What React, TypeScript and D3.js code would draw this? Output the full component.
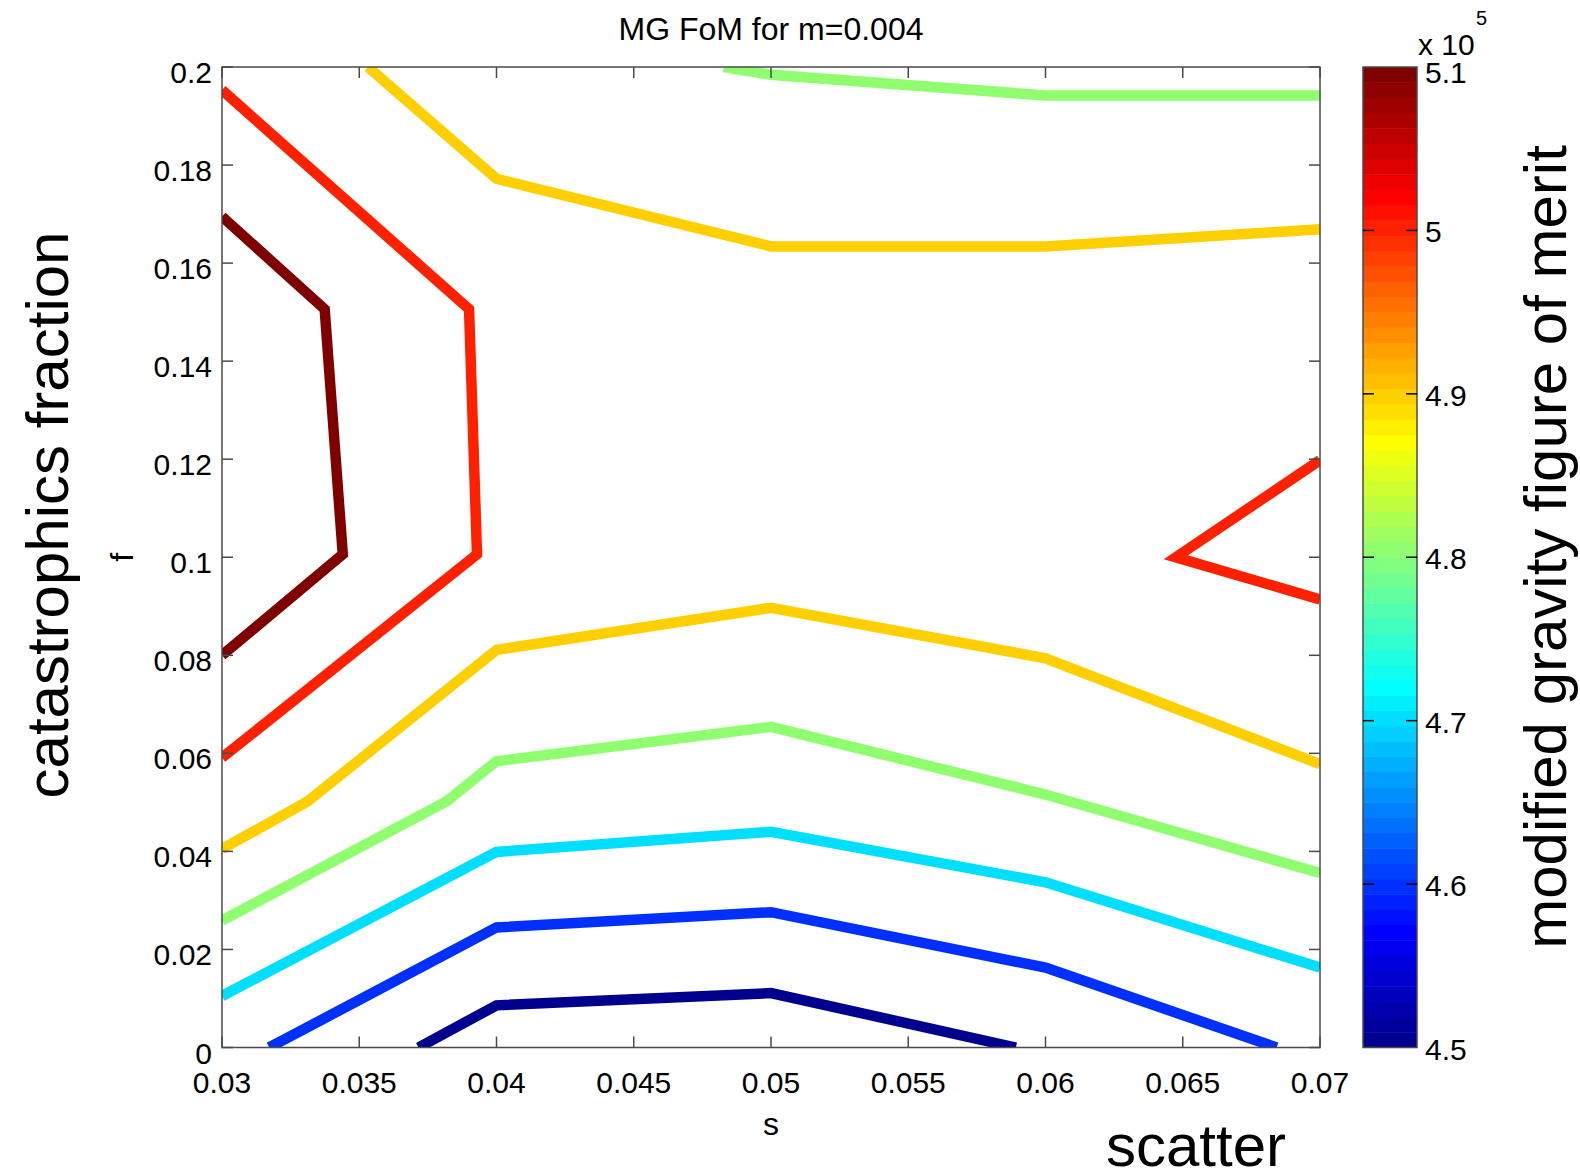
import React, { useMemo } from 'react';
import * as d3 from 'd3';

// contour levels (x 10^5) and the polylines, as [s, f]
const LEVELS = [4.5, 4.6, 4.7, 4.8, 4.9, 5.0, 5.1];

const LINE_45 = [[0.03716, 0], [0.04, 0.0086], [0.05, 0.0111], [0.05892, 0]];
const LINE_46 = [[0.03172, 0], [0.04, 0.0245], [0.05, 0.0276], [0.06, 0.0163], [0.06842, 0]];
const LINE_47 = [[0.03, 0.0105], [0.04, 0.0399], [0.05, 0.044], [0.06, 0.0337], [0.07, 0.0163]];
const LINE_48_LOW = [[0.03, 0.0259], [0.03818, 0.0502], [0.04, 0.0584], [0.05, 0.0654], [0.06, 0.0516], [0.07, 0.0356]];
const LINE_48_TOP = [[0.04828, 0.2], [0.05, 0.1984], [0.06, 0.1942], [0.07, 0.1942]];
const LINE_49_LOW = [[0.03, 0.0405], [0.03312, 0.0502], [0.04, 0.0811], [0.05, 0.0897], [0.06, 0.0794], [0.07, 0.0578]];
const LINE_49_TOP = [[0.03532, 0.2], [0.04, 0.1772], [0.05, 0.1634], [0.06, 0.1634], [0.07, 0.1669]];
const LINE_50_LEFT = [[0.03, 0.1953], [0.039, 0.1506], [0.03929, 0.1006], [0.03, 0.0591]];
const LINE_50_RIGHT = [[0.07, 0.1198], [0.06475, 0.1], [0.07, 0.0914]];
const LINE_51 = [[0.03, 0.1695], [0.03374, 0.1506], [0.0344, 0.1006], [0.03, 0.08]];

const CONTOURS = [
  { level: LEVELS[0], pts: LINE_45 },
  { level: LEVELS[1], pts: LINE_46 },
  { level: LEVELS[2], pts: LINE_47 },
  { level: LEVELS[3], pts: LINE_48_LOW },
  { level: LEVELS[3], pts: LINE_48_TOP },
  { level: LEVELS[4], pts: LINE_49_LOW },
  { level: LEVELS[4], pts: LINE_49_TOP },
  { level: LEVELS[5], pts: LINE_50_LEFT },
  { level: LEVELS[5], pts: LINE_50_RIGHT },
  { level: LEVELS[6], pts: LINE_51 },
];

const X_TICKS = [0.03, 0.035, 0.04, 0.045, 0.05, 0.055, 0.06, 0.065, 0.07];
const X_LABELS = ['0.03', '0.035', '0.04', '0.045', '0.05', '0.055', '0.06', '0.065', '0.07'];
const Y_TICKS = [0, 0.02, 0.04, 0.06, 0.08, 0.1, 0.12, 0.14, 0.16, 0.18, 0.2];
const Y_LABELS = ['0', '0.02', '0.04', '0.06', '0.08', '0.1', '0.12', '0.14', '0.16', '0.18', '0.2'];
const C_TICKS = [4.5, 4.6, 4.7, 4.8, 4.9, 5.0, 5.1];
const C_LABELS = ['4.5', '4.6', '4.7', '4.8', '4.9', '5', '5.1'];

const W = 1580;
const H = 1171;
const FONT = '"Liberation Sans", Arial, Helvetica, sans-serif';

// MATLAB jet(64)
const NCOL = 64;
function jetU(k: number) {
  if (k < 0 || k > 46) return 0;
  if (k < 16) return (k + 1) / 16;
  if (k < 31) return 1;
  return (47 - k) / 16;
}
function jet(i: number) {
  // i: 1..64
  const r = i >= 25 ? jetU(i - 25) : 0;
  const g = i >= 9 && i <= 55 ? jetU(i - 9) : 0;
  const b = i <= 39 ? jetU(i + 7) : 0;
  return d3.rgb(r * 255, g * 255, b * 255).formatHex();
}

export default function App() {
  const left = 222, right = 1320, top = 67, bottom = 1047.5;
  const cbLeft = 1363, cbRight = 1417;

  const x = d3.scaleLinear().domain([0.03, 0.07]).range([left, right]);
  const y = d3.scaleLinear().domain([0, 0.2]).range([bottom, top]);
  const c = d3.scaleLinear().domain([4.5, 5.1]).range([bottom, top]);

  const levelColor = (v: number) => {
    const idx = Math.min(NCOL, Math.floor(((v - 4.5) / 0.6) * NCOL + 1e-9) + 1);
    return jet(idx);
  };

  const line = d3.line<number[]>().x(d => x(d[0])).y(d => y(d[1]));

  const bands = useMemo(() => d3.range(NCOL).map(i => ({
    v0: 4.5 + (i * 0.6) / NCOL,
    v1: 4.5 + ((i + 1) * 0.6) / NCOL,
    color: jet(i + 1),
  })), []);

  const axisColor = '#4a4a4a';
  const tickLen = 11;

  return (
    <svg width={W} height={H} style={{ position: 'absolute', left: 0, top: 0, background: '#fff' }}
      fontFamily={FONT}>
      <defs>
        <clipPath id="plotclip">
          <rect x={left} y={top} width={right - left} height={bottom - top} />
        </clipPath>
      </defs>

      {/* title */}
      <text x={(left + right) / 2} y={40} fontSize={32} textAnchor="middle" fill="#000">MG FoM for m=0.004</text>

      {/* contour lines */}
      <g clipPath="url(#plotclip)">
        {CONTOURS.map((cl, i) => (
          <path key={i} d={line(cl.pts) || ''} fill="none" stroke={levelColor(cl.level)}
            strokeWidth={10.5} strokeLinejoin="miter" strokeMiterlimit={4} />
        ))}
      </g>

      {/* axes box */}
      <rect x={left} y={top} width={right - left} height={bottom - top} fill="none" stroke={axisColor} strokeWidth={1.5} />
      {X_TICKS.map((t, i) => (
        <g key={'xt' + i}>
          <line x1={x(t)} x2={x(t)} y1={bottom} y2={bottom - tickLen} stroke={axisColor} strokeWidth={1.5} />
          <line x1={x(t)} x2={x(t)} y1={top} y2={top + tickLen} stroke={axisColor} strokeWidth={1.5} />
          <text x={x(t)} y={1093} fontSize={30} textAnchor="middle" fill="#000">{X_LABELS[i]}</text>
        </g>
      ))}
      {Y_TICKS.map((t, i) => (
        <g key={'yt' + i}>
          <line x1={left} x2={left + tickLen} y1={y(t)} y2={y(t)} stroke={axisColor} strokeWidth={1.5} />
          <line x1={right} x2={right - tickLen} y1={y(t)} y2={y(t)} stroke={axisColor} strokeWidth={1.5} />
          <text x={212} y={y(t) + 16} fontSize={30} textAnchor="end" fill="#000">{Y_LABELS[i]}</text>
        </g>
      ))}

      {/* axis labels */}
      <text x={(left + right) / 2} y={1135} fontSize={32} textAnchor="middle" fill="#000">s</text>
      <text transform={`translate(133, ${(top + bottom) / 2}) rotate(-90)`} fontSize={32} textAnchor="middle" fill="#000">f</text>
      <text transform={`translate(68, 515) rotate(-90)`} fontSize={60} textAnchor="middle" fill="#000">catastrophics fraction</text>
      <text x={1196} y={1166} fontSize={60} textAnchor="middle" fill="#000">scatter</text>
      <text transform={`translate(1566, 547) rotate(-90)`} fontSize={60} textAnchor="middle" fill="#000">modified gravity figure of merit</text>

      {/* colorbar */}
      {bands.map((b, i) => (
        <rect key={'cb' + i} x={cbLeft} width={cbRight - cbLeft} y={c(b.v1)} height={c(b.v0) - c(b.v1) + 0.5} fill={b.color} />
      ))}
      <rect x={cbLeft} y={top} width={cbRight - cbLeft} height={bottom - top} fill="none" stroke={axisColor} strokeWidth={1.5} />
      {C_TICKS.map((t, i) => (
        <g key={'ct' + i}>
          {i > 0 && i < C_TICKS.length - 1 && (
            <>
              <line x1={cbLeft} x2={cbLeft + tickLen} y1={c(t)} y2={c(t)} stroke="#000" strokeWidth={1.5} />
              <line x1={cbRight} x2={cbRight - tickLen} y1={c(t)} y2={c(t)} stroke="#000" strokeWidth={1.5} />
            </>
          )}
          <text x={1425} y={i === C_TICKS.length - 1 ? c(t) + 16 : c(t) + 12} fontSize={30} textAnchor="start" fill="#000">{C_LABELS[i]}</text>
        </g>
      ))}
      <text x={1418} y={55} fontSize={30} fill="#000">x 10</text>
      <text x={1476} y={25} fontSize={20} fill="#000">5</text>
    </svg>
  );
}
